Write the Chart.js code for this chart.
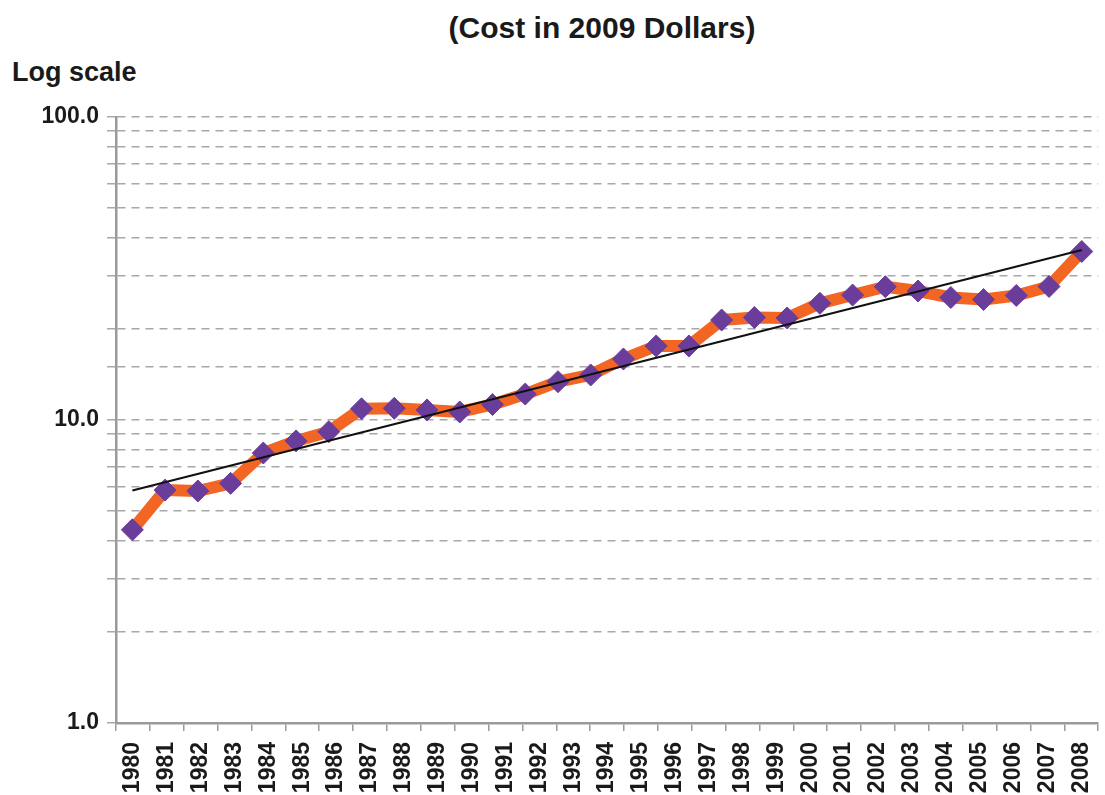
<!DOCTYPE html>
<html>
<head>
<meta charset="utf-8">
<script src="https://cdn.jsdelivr.net/npm/chart.js@4/dist/chart.umd.min.js"></script>
<style>
  html, body { margin:0; padding:0; background:#fff; overflow:hidden; }
  #wrap { position:relative; width:1120px; height:795px; }
  #wrap canvas { position:absolute; left:0; top:0; }
  .txt { position:absolute; font-family:'Liberation Sans', Arial, Helvetica, sans-serif;
         font-weight:bold; color:#1a1a1a; line-height:1; white-space:nowrap; }
  #title { left:602px; top:13px; font-size:30px; transform:translateX(-50%); }
  #logNote { left:12px; top:59px; font-size:27px; }
</style>
</head>
<body>
<div id="wrap">
  <div class="txt" id="title">(Cost in 2009 Dollars)</div>
  <div class="txt" id="logNote">Log scale</div>
  <canvas id="costChart"></canvas>
</div>
<script>
// category labels on the x axis
const years = ['1980','1981','1982','1983','1984','1985','1986','1987','1988','1989',
               '1990','1991','1992','1993','1994','1995','1996','1997','1998','1999',
               '2000','2001','2002','2003','2004','2005','2006','2007','2008'];

// plotted series (the picture shows 30 markers under the 29 year labels)
const costs = [4.34, 5.87, 5.83, 6.18, 7.78, 8.53, 9.15, 10.89, 10.93, 10.79,
               10.63, 11.25, 12.18, 13.38, 14.08, 15.90, 17.55, 17.55, 21.38, 21.79,
               21.71, 24.27, 25.85, 27.54, 26.65, 25.37, 24.98, 25.76, 27.58, 35.98];

// fitted trend line end points
const trendX = [0, 29];
const trendY = [5.85, 36.4];

// y values that carry a printed label
const labelledTicks = [1, 10, 100];

const FONT = "'Liberation Sans', Arial, Helvetica, sans-serif";

document.addEventListener('DOMContentLoaded', () => {
  const ctx = document.getElementById('costChart');
  new Chart(ctx, {
    type: 'line',
    data: {
      labels: years,
      datasets: [
        {
          label: 'Trend',
          data: trendX.map((x, i) => ({ x, y: trendY[i] })),
          xAxisID: 'xd',
          borderColor: '#111',
          borderWidth: 2.2,
          pointRadius: 0,
          order: 0
        },
        {
          label: 'Cost',
          data: costs.map((y, i) => ({ x: i, y })),
          xAxisID: 'xd',
          borderColor: '#f26522',
          borderWidth: 12,
          borderJoinStyle: 'round',
          tension: 0,
          pointStyle: 'rectRot',
          pointRadius: 11,
          pointBackgroundColor: '#6a3d9a',
          pointBorderColor: '#6a3d9a',
          pointBorderWidth: 1,
          order: 1
        }
      ]
    },
    options: {
      responsive: true,
      maintainAspectRatio: false,
      animation: false,
      layout: { padding: { top: 117, right: 5.5, left: 0, bottom: 0 } },
      plugins: { legend: { display: false }, tooltip: { enabled: false } },
      scales: {
        x: {
          type: 'category',
          offset: true,
          grid: { display: true, drawOnChartArea: false, drawTicks: true, tickLength: 8,
                  offset: true, color: '#9a9a9a', lineWidth: 1.5 },
          border: { display: true, color: '#9a9a9a', width: 2.5 },
          ticks: { autoSkip: false, minRotation: 90, maxRotation: 90, padding: 11,
                   color: '#1a1a1a', font: { family: FONT, size: 23, weight: 'bold' } },
          afterFit: s => { s.height = 72; }
        },
        xd: { type: 'linear', display: false, min: -0.5, max: 29.5 },
        y: {
          type: 'logarithmic',
          min: 1,
          max: 100,
          grid: { color: '#a8a8a8', lineWidth: 1.5, tickLength: 9 },
          border: { display: true, color: '#9a9a9a', width: 2.5, dash: [8, 6] },
          ticks: {
            autoSkip: false,
            padding: 8,
            color: '#1a1a1a',
            font: { family: FONT, size: 23, weight: 'bold' },
            callback: v => labelledTicks.some(t => Math.abs(t - v) < 1e-9) ? Number(v).toFixed(1) : ''
          },
          afterFit: s => { s.width = 116; }
        }
      }
    }
  });
});
</script>
</body>
</html>
